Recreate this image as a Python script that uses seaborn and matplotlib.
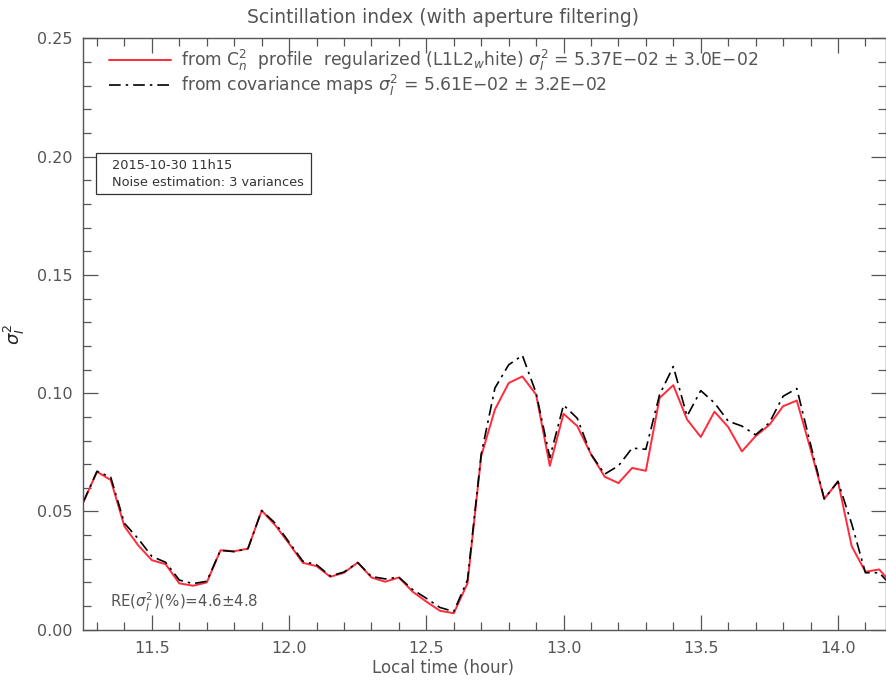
import numpy as np
import pandas as pd
import seaborn as sns
import matplotlib.pyplot as plt
from matplotlib.ticker import MultipleLocator
from matplotlib.patches import Rectangle

# local time, one sample every 3 minutes from 11h15
t_start = 11.25
n_pts = 60
t_step = 0.05

red_vals = [0.0539, 0.0668, 0.0633, 0.0437, 0.0357, 0.0294, 0.0277, 0.0196, 0.0186, 0.0200,
            0.0336, 0.0332, 0.0343, 0.0504, 0.0441, 0.0364, 0.0283, 0.0269, 0.0224, 0.0241,
            0.0284, 0.0221, 0.0203, 0.0221, 0.0161, 0.0119, 0.0080, 0.0070, 0.0196, 0.0735,
            0.0931, 0.1043, 0.1071, 0.0994, 0.0693, 0.0913, 0.0861, 0.0742, 0.0647, 0.0620,
            0.0684, 0.0672, 0.0980, 0.1034, 0.0889, 0.0815, 0.0922, 0.0857, 0.0754, 0.0819,
            0.0866, 0.0945, 0.0969, 0.0763, 0.0553, 0.0627, 0.0353, 0.0245, 0.0255, 0.0190]

black_vals = [0.0540, 0.0670, 0.0645, 0.0450, 0.0385, 0.0310, 0.0285, 0.0210, 0.0195, 0.0205,
              0.0336, 0.0330, 0.0343, 0.0504, 0.0450, 0.0370, 0.0290, 0.0275, 0.0227, 0.0244,
              0.0284, 0.0225, 0.0215, 0.0222, 0.0170, 0.0133, 0.0094, 0.0077, 0.0210, 0.0742,
              0.1022, 0.1120, 0.1160, 0.1001, 0.0728, 0.0950, 0.0894, 0.0742, 0.0658, 0.0693,
              0.0768, 0.0763, 0.0994, 0.1113, 0.0903, 0.1011, 0.0959, 0.0882, 0.0861, 0.0824,
              0.0875, 0.0987, 0.1020, 0.0784, 0.0553, 0.0627, 0.0448, 0.0241, 0.0241, 0.0180]

label_red = (r"from C$_n^2$  profile  regularized (L1L2$_w$hite) $\sigma_I^2$ = 5.37E$-$02 $\pm$ 3.0E$-$02")
label_black = r"from covariance maps $\sigma_I^2$ = 5.61E$-$02 $\pm$ 3.2E$-$02"

times = t_start + t_step * np.arange(n_pts)
df = pd.DataFrame({"time": times, "red": red_vals, "black": black_vals})

sns.set_style("ticks")
plt.rcParams['font.family'] = ['DejaVu Sans']
plt.rcParams['mathtext.fontset'] = 'dejavusans'
gray = "#555555"

fig = plt.figure(figsize=(8.86, 6.86), dpi=100)
ax = fig.add_axes([0.094, 0.082, 0.906, 0.862])

sns.lineplot(data=df, x="time", y="red", color="#ff2a3a", lw=1.4, ax=ax, label=label_red)
sns.lineplot(data=df, x="time", y="black", color="black", lw=1.2, ax=ax,
             label=label_black, dashes=False)
ax.lines[1].set_dashes([7, 3, 1.5, 3])

ax.set_xlim(11.25, 14.175)
ax.set_ylim(0, 0.25)
ax.xaxis.set_major_locator(MultipleLocator(0.5))
ax.xaxis.set_minor_locator(MultipleLocator(0.1))
ax.yaxis.set_major_locator(MultipleLocator(0.05))
ax.yaxis.set_minor_locator(MultipleLocator(0.01))
ax.xaxis.set_major_formatter(plt.FuncFormatter(lambda v, p: f"{v:.1f}"))
ax.yaxis.set_major_formatter(plt.FuncFormatter(lambda v, p: f"{v:.2f}"))
ax.tick_params(which="both", direction="in", top=True, right=True, colors=gray,
               labelcolor=gray, labelsize=11.5, width=0.9)
ax.tick_params(which="major", length=11, pad=8)
ax.tick_params(which="minor", length=5.5)
for s in ax.spines.values():
    s.set_color(gray)
    s.set_linewidth(1.0)

# title and x label are centred on the figure, not on the axes
fig.text(0.5, 0.975, "Scintillation index (with aperture filtering)", color=gray,
         fontsize=13.5, ha="center", va="center")
ax.set_xlabel("Local time (hour)", color=gray, fontsize=12)
ax.xaxis.set_label_coords(0.448, -0.05)
ax.set_ylabel(r"$\sigma_I^2$", color="#222222", fontsize=13)
ax.yaxis.set_label_coords(-0.07, 0.5)

leg = ax.legend(loc="upper left", bbox_to_anchor=(0.024, 0.995), frameon=False,
                handlelength=3.6, handletextpad=0.6, fontsize=12.3, labelspacing=0.0,
                borderaxespad=0.0)
for txt in leg.get_texts():
    txt.set_color(gray)

ax.add_patch(Rectangle((0.0162, 0.7365), 0.268, 0.0695, transform=ax.transAxes,
                       facecolor="white", edgecolor="#333333", lw=0.9, zorder=5))
ax.text(0.036, 0.7855, "2015-10-30 11h15", transform=ax.transAxes,
        fontsize=9.3, color="#333333", va="center", ha="left", zorder=6)
ax.text(0.036, 0.7555, "Noise estimation: 3 variances", transform=ax.transAxes,
        fontsize=9.3, color="#333333", va="center", ha="left", zorder=6)

ax.text(0.033, 0.047, r"RE($\sigma_I^2$)(%)=4.6$\pm$4.8", transform=ax.transAxes,
        fontsize=10.8, color=gray, ha="left", va="center")

fig.savefig("out.png", dpi=100)
